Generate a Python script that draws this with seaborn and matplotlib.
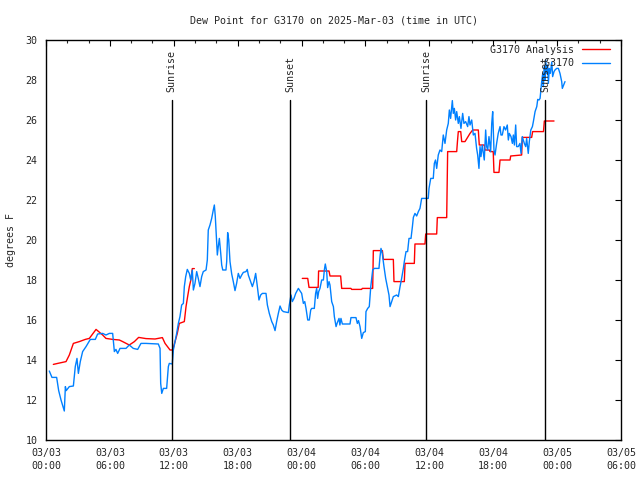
import numpy as np
import pandas as pd
import matplotlib
matplotlib.use("Agg")
import matplotlib.pyplot as plt
import matplotlib.dates as mdates
import seaborn as sns

START = pd.Timestamp("2025-03-03 00:00")

# station observations (hours after 03/03 00:00 UTC, deg F)
obs_hours = [0.31, 0.56, 1.00, 1.19, 1.41, 1.72, 1.82, 1.90, 2.19, 2.57, 2.66, 2.75, 2.91, 3.04, 3.22, 3.44,
             3.76, 4.16, 4.63, 4.85, 5.32, 5.63, 5.95, 6.26, 6.42, 6.57, 6.73, 6.95, 7.51, 7.82, 8.20, 8.61,
             8.92, 9.39, 10.55, 10.71, 10.77, 10.87, 11.02, 11.33, 11.49, 11.58, 11.86, 11.96, 12.12, 12.27,
             12.43, 12.58, 12.74, 12.90, 12.99, 13.12, 13.27, 13.46, 13.59, 13.74, 13.84, 13.99, 14.15, 14.30,
             14.46, 14.62, 14.77, 15.03, 15.15, 15.24, 15.40, 15.56, 15.71, 15.81, 15.90, 16.03, 16.09, 16.18,
             16.28, 16.41, 16.50, 16.60, 16.90, 16.97, 17.06, 17.16, 17.28, 17.44, 17.59, 17.75, 17.90, 18.06,
             18.22, 18.38, 18.53, 18.78, 18.90, 19.00, 19.22, 19.38, 19.53, 19.69, 19.85, 20.00, 20.16, 20.32,
             20.66, 20.79, 20.97, 21.20, 21.35, 21.51, 21.66, 21.82, 21.98, 22.13, 22.29, 22.76, 22.85, 23.01,
             23.13, 23.29, 23.45, 23.70, 24.01, 24.17, 24.30, 24.42, 24.58, 24.73, 24.86, 24.95, 25.20, 25.32,
             25.42, 25.51, 25.61, 25.73, 25.89, 26.05, 26.14, 26.23, 26.36, 26.45, 26.58, 26.67, 26.83, 26.99,
             27.08, 27.24, 27.36, 27.52, 27.60, 27.70, 27.83, 28.55, 28.64, 29.11, 29.24, 29.35, 29.49, 29.65,
             29.80, 29.99, 30.05, 30.21, 30.36, 30.50, 30.68, 30.83, 31.27, 31.37, 31.46, 31.58, 31.74, 31.90,
             32.05, 32.21, 32.31, 32.46, 32.62, 32.93, 33.09, 33.25, 33.40, 33.56, 33.65, 33.81, 33.96, 34.09,
             34.28, 34.41, 34.50, 34.65, 34.81, 34.97, 35.12, 35.28, 35.90, 35.97, 36.13, 36.37, 36.47, 36.58,
             36.69, 36.84, 37.00, 37.16, 37.31, 37.47, 37.63, 37.78, 37.88, 38.00, 38.16, 38.25, 38.35, 38.47,
             38.57, 38.72, 38.82, 38.97, 39.13, 39.25, 39.41, 39.60, 39.72, 39.82, 39.98, 40.13, 40.29, 40.44,
             40.54, 40.66, 40.76, 40.85, 40.97, 41.16, 41.29, 41.38, 41.48, 41.60, 41.76, 41.86, 41.95, 42.07,
             42.17, 42.32, 42.47, 42.64, 42.73, 42.85, 43.01, 43.16, 43.32, 43.42, 43.51, 43.67, 43.80, 43.89,
             43.99, 44.11, 44.20, 44.35, 44.51, 44.61, 44.73, 44.92, 45.05, 45.14, 45.29, 45.39, 45.53, 45.68,
             45.77, 45.93, 46.09, 46.18, 46.30, 46.40, 46.49, 46.55, 46.65, 46.71, 46.80, 46.86, 46.93, 47.02,
             47.11, 47.18, 47.27, 47.36, 47.50, 47.58, 47.71, 47.80, 47.96, 48.12, 48.27, 48.43, 48.49, 48.62,
             48.74]
obs_dewpt = [13.45, 13.13, 13.13, 12.47, 12.00, 11.45, 12.67, 12.47, 12.67, 12.70, 13.17, 13.67, 14.08, 13.33, 13.92, 14.42,
             14.67, 15.03, 15.03, 15.30, 15.33, 15.25, 15.33, 15.33, 14.42, 14.53, 14.33, 14.58, 14.58, 14.75, 14.58, 14.53,
             14.83, 14.83, 14.80, 14.58, 12.83, 12.33, 12.58, 12.58, 13.67, 13.83, 13.80, 14.50, 14.92, 15.33,
             15.83, 16.17, 16.75, 16.83, 17.67, 18.17, 18.53, 18.33, 18.00, 18.50, 17.50, 17.83, 18.42, 18.08,
             17.67, 18.17, 18.42, 18.50, 19.00, 20.50, 20.75, 21.08, 21.50, 21.75, 21.17, 19.92, 19.25, 19.67,
             20.08, 19.33, 18.75, 18.50, 18.50, 18.92, 20.37, 20.00, 18.92, 18.30, 17.92, 17.47, 17.83, 18.33,
             18.08, 18.25, 18.38, 18.42, 18.53, 18.25, 17.92, 17.67, 17.92, 18.33, 17.67, 17.00, 17.25, 17.33,
             17.33, 16.75, 16.33, 15.92, 15.75, 15.47, 15.92, 16.33, 16.70, 16.50, 16.42, 16.37, 16.75, 17.25,
             16.92, 17.08, 17.33, 17.58, 17.33, 16.83, 16.92, 16.58, 16.00, 16.00, 16.50, 16.58, 16.58, 17.33,
             17.58, 17.08, 17.42, 17.58, 18.00, 18.00, 18.50, 18.80, 18.42, 17.62, 17.92, 17.75, 16.92, 16.67,
             16.17, 15.67, 15.87, 16.08, 15.75, 16.08, 15.80, 15.80, 16.12, 16.12, 15.83, 15.97, 15.67, 15.08,
             15.37, 15.42, 16.42, 16.58, 16.67, 17.67, 18.50, 18.58, 18.58, 19.17, 19.58, 19.33, 18.67, 18.08,
             17.67, 17.25, 16.67, 16.92, 17.17, 17.25, 17.17, 17.67, 18.08, 18.58, 18.92, 19.42, 19.42, 20.08,
             20.08, 20.67, 21.13, 21.33, 21.20, 21.42, 21.58, 22.08, 22.08, 22.58, 23.08, 23.08, 23.83, 24.00,
             23.58, 24.25, 24.50, 24.42, 25.25, 24.83, 25.50, 25.83, 26.50, 26.08, 26.97, 26.33, 26.58, 26.00,
             26.42, 25.83, 26.17, 25.58, 26.33, 25.83, 25.92, 25.67, 26.17, 25.75, 26.00, 25.25, 25.33, 24.58,
             24.25, 23.58, 24.67, 24.17, 24.75, 24.00, 25.50, 24.67, 24.50, 25.17, 24.42, 25.83, 26.42, 24.50,
             24.25, 24.83, 25.33, 25.67, 25.25, 25.25, 25.67, 25.50, 25.75, 25.00, 25.33, 25.17, 24.83, 25.25,
             24.75, 25.75, 24.67, 24.67, 24.83, 24.33, 25.17, 24.83, 24.67, 25.08, 24.33, 24.92, 25.50, 25.67,
             25.92, 26.42, 26.67, 27.03, 27.00, 27.08, 27.58, 27.92, 28.33, 27.67, 28.67, 28.00, 29.00, 28.33,
             28.75, 27.83, 28.58, 28.33, 28.90, 28.17, 28.42, 28.50, 28.58, 28.58, 28.33, 27.92, 27.58, 27.75,
             27.92]

# analysis, first stretch
ana1_hours = [0.69, 1.10, 1.88, 2.19, 2.57, 3.13, 3.69, 4.07, 4.70, 5.32, 5.63, 6.26, 6.89, 7.20, 7.82, 8.30,
              8.70, 9.39, 10.24, 10.93, 11.18, 11.65, 11.90, 12.12, 12.33, 12.52, 12.99, 13.15, 13.30, 13.46,
              13.59, 13.74, 13.93]
ana1_dewpt = [13.78, 13.83, 13.92, 14.25, 14.83, 14.92, 15.03, 15.08, 15.53, 15.25, 15.08, 15.03, 15.00, 14.92, 14.75, 14.92,
              15.13, 15.07, 15.05, 15.12, 14.83, 14.50, 14.50, 14.92, 15.33, 15.83, 15.92, 16.67, 17.17, 17.67,
              17.97, 18.57, 18.57]
# analysis, second stretch
ana2_hours = [24.07, 24.58, 24.70, 25.56, 25.60, 26.58, 26.67, 27.67, 27.77, 28.64, 28.70, 29.64, 29.70, 30.68,
              30.74, 31.59, 31.68, 32.62, 32.68, 33.65, 33.72, 34.59, 34.65, 35.59, 35.66, 36.69, 36.75, 37.63,
              37.72, 38.57, 38.64, 38.72, 38.95, 39.04, 39.35, 39.82, 40.07, 40.60, 40.69, 41.16, 41.22, 41.63,
              41.70, 42.00, 42.07, 42.54, 42.64, 43.58, 43.64, 44.67, 44.73, 45.61, 45.70, 46.72, 46.80, 47.71]
ana2_dewpt = [18.08, 18.08, 17.63, 17.63, 18.45, 18.45, 18.20, 18.20, 17.58, 17.58, 17.53, 17.53, 17.58, 17.58,
              19.47, 19.47, 19.03, 19.03, 17.92, 17.92, 18.83, 18.83, 19.80, 19.80, 20.30, 20.30, 21.12, 21.12,
              24.42, 24.42, 24.92, 25.42, 25.42, 24.92, 24.92, 25.33, 25.50, 25.50, 24.75, 24.75, 24.50, 24.50,
              24.42, 24.42, 23.38, 23.38, 24.00, 24.00, 24.20, 24.25, 25.13, 25.13, 25.42, 25.42, 25.95, 25.95]

sun_labels = ["Sunrise", "Sunset", "Sunrise", "Sunset"]
sun_times = ["2025-03-03 11:48", "2025-03-03 22:56", "2025-03-04 11:43", "2025-03-04 22:54"]


def to_time(hours):
    return START + pd.to_timedelta(np.array(hours), unit="h")


frames = [
    pd.DataFrame({"time": to_time(ana1_hours), "dewpt": ana1_dewpt, "series": "G3170 Analysis", "seg": 1}),
    pd.DataFrame({"time": to_time(ana2_hours), "dewpt": ana2_dewpt, "series": "G3170 Analysis", "seg": 2}),
    pd.DataFrame({"time": to_time(obs_hours), "dewpt": obs_dewpt, "series": "         G3170", "seg": 3}),
]
df = pd.concat(frames, ignore_index=True)

sns.set_style("white")
plt.rcParams["font.family"] = ["DejaVu Sans Mono", "DejaVu Sans"]
plt.rcParams["font.size"] = 7.2

fig = plt.figure(figsize=(6.4, 4.8), dpi=100)
ax = fig.add_axes([46 / 640, 40 / 480, 575 / 640, 400 / 480])

sns.lineplot(data=df, x="time", y="dewpt", hue="series", units="seg", estimator=None,
             hue_order=["G3170 Analysis", "         G3170"],
             palette=["#ff0000", "#0080ff"], linewidth=1.0, sort=False, ax=ax)

for lab, t in zip(sun_labels, sun_times):
    t = pd.Timestamp(t)
    ax.plot([t, t], [10, 27.0], color="black", linewidth=1.0)
    ax.text(t, 27.4, lab, rotation=90, ha="center", va="bottom", fontsize=7.2)

ax.set_xlim(START, START + pd.Timedelta(hours=54))
ax.set_ylim(10, 30)
ax.set_yticks(np.arange(10, 31, 2))
ax.xaxis.set_major_locator(mdates.HourLocator(byhour=[0, 6, 12, 18]))
ax.xaxis.set_minor_locator(mdates.HourLocator(byhour=range(0, 24, 2)))
ax.xaxis.set_major_formatter(mdates.DateFormatter("%m/%d\n%H:%M"))
ax.tick_params(which="major", direction="in", length=4, width=0.8, top=True, right=True,
               labelsize=7.2, pad=6, color="black")
ax.tick_params(which="minor", direction="in", length=2, width=0.8, top=True, right=False)
for lab in ax.get_xticklabels():
    lab.set_linespacing(1.3)
for s in ax.spines.values():
    s.set_color("black")
    s.set_linewidth(1.0)

ax.set_xlabel("")
ax.set_ylabel("degrees F", fontsize=7.2, labelpad=7)
ax.set_title("Dew Point for G3170 on 2025-Mar-03 (time in UTC)", fontsize=7.2, pad=12)

handles, labels = ax.get_legend_handles_labels()
ax.legend(handles, labels, loc="upper right", bbox_to_anchor=(0.981, 0.988), frameon=False,
          markerfirst=False, borderpad=0, borderaxespad=0, handlelength=2.8, handletextpad=0.8,
          labelspacing=0.35, fontsize=7.2)

fig.savefig("out.png", dpi=100)
